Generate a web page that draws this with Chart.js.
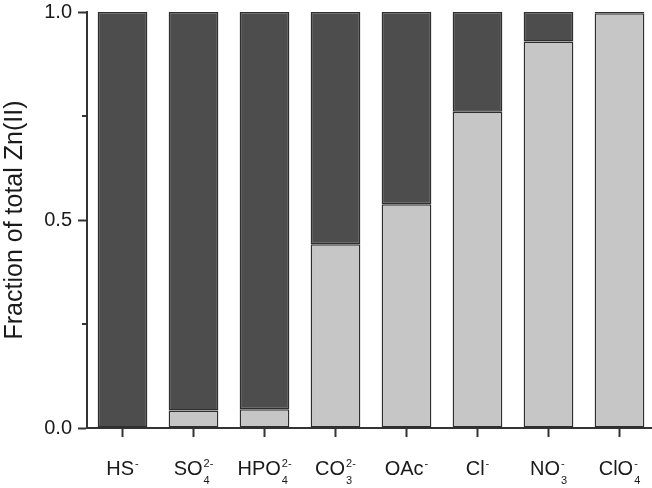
<!DOCTYPE html>
<html lang="en">

<head>
  <meta charset="UTF-8">
  <title>Fraction of total Zn(II)</title>
  <style>
    html, body { margin: 0; padding: 0; background: #fff; overflow: hidden; }
  </style>
</head>

<body>
  <canvas id="chart" width="660" height="488"></canvas>

  <script src="https://cdn.jsdelivr.net/npm/chart.js"></script>
  <script>
    // anion labels, split into base / superscript / subscript
    const categories = ['HS', 'SO', 'HPO', 'CO', 'OAc', 'Cl', 'NO', 'ClO'];
    const superscripts = ['-', '2-', '2-', '2-', '-', '-', '-', '-'];
    const subscripts = ['', '4', '4', '3', '', '', '3', '4'];

    // light gray (bottom) and dark gray (top) fractions
    const lightFraction = [0, 0.042, 0.045, 0.442, 0.538, 0.760, 0.929, 0.997];
    const darkFraction = [1, 0.958, 0.955, 0.558, 0.462, 0.240, 0.071, 0.003];

    const yMajorTicks = [0, 0.5, 1.0];
    const yMinorTicks = [0.25, 0.75];

    const axisColor = '#333';
    const textColor = '#1a1a1a';
    const fontFamily = '"Liberation Sans", Arial, sans-serif';

    // draws minor y ticks and the x labels with sub/superscripts
    const extrasPlugin = {
      id: 'extras',
      afterDraw(chart) {
        const ctx = chart.ctx;
        const x = chart.scales.x;
        const y = chart.scales.y;

        ctx.save();
        ctx.strokeStyle = axisColor;
        ctx.lineWidth = 2;
        yMinorTicks.forEach(v => {
          const py = Math.round(y.getPixelForValue(v));
          ctx.beginPath();
          ctx.moveTo(y.right - 5, py);
          ctx.lineTo(y.right, py);
          ctx.stroke();
        });

        ctx.fillStyle = textColor;
        ctx.textBaseline = 'alphabetic';
        const baseLine = x.top + 47;
        categories.forEach((base, i) => {
          const cx = x.getPixelForValue(i);
          ctx.font = '20px ' + fontFamily;
          const baseW = ctx.measureText(base).width;
          ctx.font = '11px ' + fontFamily;
          const supW = ctx.measureText(superscripts[i]).width;
          const subW = ctx.measureText(subscripts[i]).width;
          const total = baseW + 1 + Math.max(supW, subW);
          const left = cx - total / 2;

          ctx.font = '20px ' + fontFamily;
          ctx.textAlign = 'left';
          ctx.fillText(base, left, baseLine);
          ctx.font = '11px ' + fontFamily;
          ctx.fillText(superscripts[i], left + baseW + 1, baseLine - 8);
          ctx.fillText(subscripts[i], left + baseW + 1, baseLine + 9);
        });
        ctx.restore();
      }
    };

    new Chart(document.getElementById('chart'), {
      type: 'bar',
      data: {
        labels: categories.map((c, i) => c + subscripts[i] + superscripts[i]),
        datasets: [
          {
            label: 'light',
            data: lightFraction,
            backgroundColor: '#c6c6c6',
            borderColor: '#2e2e2e',
            borderWidth: 1.5,
            borderSkipped: false,
            barPercentage: 0.7,
            categoryPercentage: 1
          },
          {
            label: 'dark',
            data: darkFraction,
            backgroundColor: '#4d4d4d',
            borderColor: '#2e2e2e',
            borderWidth: 1.5,
            borderSkipped: false,
            barPercentage: 0.7,
            categoryPercentage: 1
          }
        ]
      },
      options: {
        responsive: false,
        animation: false,
        layout: { padding: { top: 12, right: 5, left: 0, bottom: 0 } },
        plugins: {
          legend: { display: false },
          tooltip: { enabled: false }
        },
        scales: {
          x: {
            stacked: true,
            afterFit: s => { s.height = 60; s.paddingLeft = 0; s.paddingRight = 0; },
            grid: {
              offset: false,
              drawOnChartArea: false,
              drawTicks: true,
              tickLength: 9,
              tickWidth: 2,
              tickColor: axisColor
            },
            border: { display: true, color: axisColor, width: 2 },
            ticks: { callback: () => '', color: 'rgba(0,0,0,0)' }
          },
          y: {
            stacked: true,
            min: 0,
            max: 1,
            afterFit: s => { s.width = 87; s.paddingTop = 0; s.paddingBottom = 0; },
            afterBuildTicks: s => { s.ticks = yMajorTicks.map(v => ({ value: v })); },
            grid: {
              drawOnChartArea: false,
              drawTicks: true,
              tickLength: 9,
              tickWidth: 2,
              tickColor: axisColor
            },
            border: { display: true, color: axisColor, width: 2 },
            ticks: {
              padding: 6,
              color: textColor,
              font: { family: fontFamily, size: 20 },
              callback: v => Number(v).toFixed(1)
            },
            title: {
              display: true,
              text: 'Fraction of total Zn(II)',
              color: textColor,
              font: { family: fontFamily, size: 25 },
              padding: { top: 0, bottom: 0 }
            }
          }
        }
      },
      plugins: [extrasPlugin]
    });
  </script>
</body>

</html>
